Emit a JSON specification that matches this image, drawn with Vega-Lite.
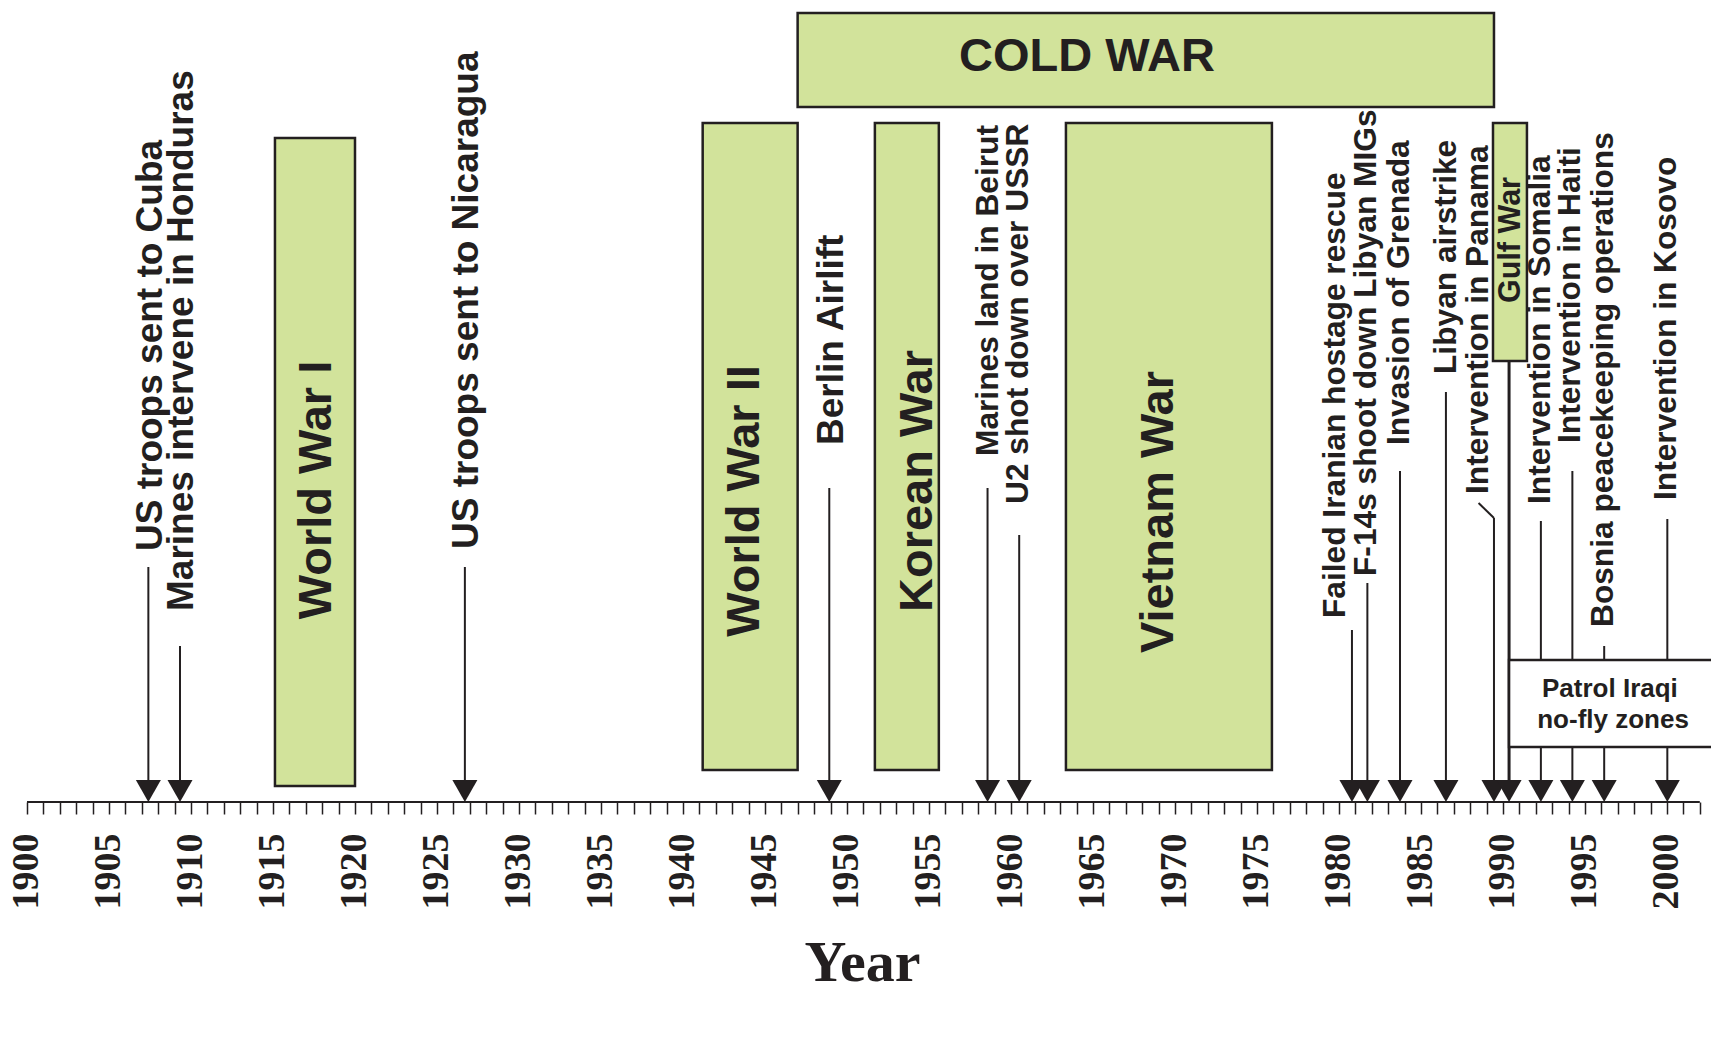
{
  "$schema": "https://vega.github.io/schema/vega-lite/v6.json",
  "width": 1711,
  "height": 802,
  "autosize": {"type": "none"},
  "padding": {"left": 0, "top": 0, "right": 0, "bottom": 235},
  "background": "white",
  "config": {"view": {"stroke": null}},
  "datasets": {
    "periods": [
      {"name": "COLD WAR", "start": 1946.99, "end": 1989.45, "top": 789, "bottom": 695},
      {"name": "World War I", "start": 1915.12, "end": 1920.0, "top": 664, "bottom": 16},
      {"name": "World War II", "start": 1941.2, "end": 1946.99, "top": 679, "bottom": 32},
      {"name": "Korean War", "start": 1951.7, "end": 1955.6, "top": 679, "bottom": 32},
      {"name": "Vietnam War", "start": 1963.35, "end": 1975.91, "top": 679, "bottom": 32},
      {"name": "Gulf War", "start": 1989.39, "end": 1991.46, "top": 679, "bottom": 441}
    ],
    "periodLabels": [
      {"name": "World War I", "year": 1917.71, "level": 312},
      {"name": "World War II", "year": 1943.77, "level": 301},
      {"name": "Korean War", "year": 1954.32, "level": 321},
      {"name": "Vietnam War", "year": 1969.01, "level": 290},
      {"name": "Gulf War", "year": 1990.48, "level": 562},
      {"name": "COLD WAR", "year": 1964.63, "level": 731}
    ],
    "events": [
      {"event": "US troops sent to Cuba", "year": 1907.4, "top": 235, "labelYear": 1907.54, "labelBase": 251},
      {"event": "Marines intervene in Honduras", "year": 1909.33, "top": 156, "labelYear": 1909.46, "labelBase": 191},
      {"event": "US troops sent to Nicaragua", "year": 1926.7, "top": 235, "labelYear": 1926.83, "labelBase": 253},
      {"event": "Berlin Airlift", "year": 1948.92, "top": 314, "labelYear": 1949.06, "labelBase": 357},
      {"event": "Marines land in Beirut", "year": 1958.57, "top": 314, "labelYear": 1958.57, "labelBase": 346},
      {"event": "U2 shot down over USSR", "year": 1960.5, "top": 267, "labelYear": 1960.43, "labelBase": 298},
      {"event": "Failed Iranian hostage rescue", "year": 1980.79, "top": 172, "labelYear": 1979.73, "labelBase": 184},
      {"event": "F-14s shoot down Libyan MIGs", "year": 1981.73, "top": 219, "labelYear": 1981.66, "labelBase": 226},
      {"event": "Invasion of Grenada", "year": 1983.72, "top": 331, "labelYear": 1983.66, "labelBase": 357},
      {"event": "Libyan airstrike", "year": 1986.52, "top": 410, "labelYear": 1986.52, "labelBase": 428},
      {"event": "Intervention in Panama", "year": 1989.45, "top": 284, "labelYear": 1988.45, "labelBase": 308},
      {"event": "Gulf War", "year": 1990.37, "top": 441, "labelYear": null, "labelBase": null},
      {"event": "Intervention in Somalia", "year": 1992.31, "top": 281, "labelYear": 1992.26, "labelBase": 298},
      {"event": "Intervention in Haiti", "year": 1994.23, "top": 331, "labelYear": 1994.11, "labelBase": 359},
      {"event": "Bosnia peacekeeping operations", "year": 1996.17, "top": 156, "labelYear": 1996.1, "labelBase": 175},
      {"event": "Intervention in Kosovo", "year": 2000.02, "top": 283, "labelYear": 1999.96, "labelBase": 302}
    ],
    "panamaKink": [
      {"order": 1, "year": 1988.51, "level": 299},
      {"order": 2, "year": 1989.45, "level": 284}
    ],
    "patrol": [
      {"name": "Patrol Iraqi no-fly zones", "start": 1990.37, "end": 2004.5, "top": 142, "bottom": 55}
    ],
    "patrolText": [
      {"line": "Patrol Iraqi", "year": 1996.52, "level": 105},
      {"line": "no-fly zones", "year": 1996.71, "level": 74}
    ],
    "axisLine": [
      {"from": 1900, "to": 2002}
    ]
  },
  "layer": [
    {
      "data": {"name": "axisLine"},
      "mark": {"type": "rule", "stroke": "#231f20", "strokeWidth": 2},
      "encoding": {
        "x": {
          "field": "from",
          "type": "quantitative",
          "title": "Year",
          "scale": {"domain": [1898.354, 2002.683], "nice": false, "zero": false},
          "axis": {
            "values": [1900,1901,1902,1903,1904,1905,1906,1907,1908,1909,1910,1911,1912,1913,1914,1915,1916,1917,1918,1919,1920,1921,1922,1923,1924,1925,1926,1927,1928,1929,1930,1931,1932,1933,1934,1935,1936,1937,1938,1939,1940,1941,1942,1943,1944,1945,1946,1947,1948,1949,1950,1951,1952,1953,1954,1955,1956,1957,1958,1959,1960,1961,1962,1963,1964,1965,1966,1967,1968,1969,1970,1971,1972,1973,1974,1975,1976,1977,1978,1979,1980,1981,1982,1983,1984,1985,1986,1987,1988,1989,1990,1991,1992,1993,1994,1995,1996,1997,1998,1999,2000,2001,2002],
            "tickCount": 500,
            "format": "d",
            "labelExpr": "datum.value % 5 === 0 && datum.value <= 2000 ? datum.label : ''",
            "domain": false,
            "grid": false,
            "ticks": true,
            "tickSize": 12,
            "tickWidth": 1.5,
            "tickColor": "#231f20",
            "labelAngle": 270,
            "labelAlign": "right",
            "labelBaseline": "middle",
            "labelFont": "Liberation Serif",
            "labelFontSize": 38,
            "labelFontWeight": "bold",
            "labelColor": "#231f20",
            "labelPadding": 19,
            "labelOverlap": false,
            "labelFlush": false,
            "labelBound": false,
            "title": "Year",
            "titleFont": "Liberation Serif",
            "titleFontSize": 58,
            "titleFontWeight": "bold",
            "titleColor": "#231f20",
            "titleX": 862,
            "titleY": 178,
            "titleBaseline": "alphabetic",
            "titleAlign": "center"
          }
        },
        "x2": {"field": "to"},
        "y": {"datum": 0, "type": "quantitative", "scale": {"domain": [0, 802], "nice": false, "zero": false}, "axis": null}
      }
    },
    {
      "data": {"name": "periods"},
      "mark": {"type": "rect", "fill": "#d2e39b", "stroke": "#231f20", "strokeWidth": 2.5},
      "encoding": {
        "x": {"field": "start", "type": "quantitative", "title": "Year", "scale": {"domain": [1898.354, 2002.683], "nice": false, "zero": false}},
        "x2": {"field": "end"},
        "y": {"field": "top", "type": "quantitative", "scale": {"domain": [0, 802], "nice": false, "zero": false}, "axis": null},
        "y2": {"field": "bottom"}
      }
    },
    {
      "data": {"name": "events"},
      "transform": [{"filter": "datum.event !== 'Gulf War'"}],
      "mark": {"type": "rule", "stroke": "#231f20", "strokeWidth": 2},
      "encoding": {
        "x": {"field": "year", "type": "quantitative", "title": "Year", "scale": {"domain": [1898.354, 2002.683], "nice": false, "zero": false}},
        "y": {"field": "top", "type": "quantitative", "scale": {"domain": [0, 802], "nice": false, "zero": false}, "axis": null},
        "y2": {"datum": 12}
      }
    },
    {
      "data": {"name": "events"},
      "transform": [{"filter": "datum.event === 'Gulf War'"}],
      "mark": {"type": "rule", "stroke": "#231f20", "strokeWidth": 3},
      "encoding": {
        "x": {"field": "year", "type": "quantitative", "title": "Year", "scale": {"domain": [1898.354, 2002.683], "nice": false, "zero": false}},
        "y": {"field": "top", "type": "quantitative", "scale": {"domain": [0, 802], "nice": false, "zero": false}, "axis": null},
        "y2": {"datum": 12}
      }
    },
    {
      "data": {"name": "panamaKink"},
      "mark": {"type": "line", "stroke": "#231f20", "strokeWidth": 2},
      "encoding": {
        "x": {"field": "year", "type": "quantitative", "title": "Year", "scale": {"domain": [1898.354, 2002.683], "nice": false, "zero": false}},
        "y": {"field": "level", "type": "quantitative", "scale": {"domain": [0, 802], "nice": false, "zero": false}, "axis": null},
        "order": {"field": "order"}
      }
    },
    {
      "data": {"name": "patrol"},
      "mark": {"type": "rect", "fill": "white", "stroke": "#231f20", "strokeWidth": 2.5},
      "encoding": {
        "x": {"field": "start", "type": "quantitative", "title": "Year", "scale": {"domain": [1898.354, 2002.683], "nice": false, "zero": false}},
        "x2": {"field": "end"},
        "y": {"field": "top", "type": "quantitative", "scale": {"domain": [0, 802], "nice": false, "zero": false}, "axis": null},
        "y2": {"field": "bottom"}
      }
    },
    {
      "data": {"name": "events"},
      "mark": {"type": "point", "shape": "M0,1L-1,-0.76L1,-0.76Z", "size": 625, "filled": true, "fill": "#231f20", "opacity": 1, "strokeWidth": 0},
      "encoding": {
        "x": {"field": "year", "type": "quantitative", "title": "Year", "scale": {"domain": [1898.354, 2002.683], "nice": false, "zero": false}},
        "y": {"datum": 12.5, "type": "quantitative", "scale": {"domain": [0, 802], "nice": false, "zero": false}, "axis": null}
      }
    },
    {
      "data": {"name": "periodLabels"},
      "transform": [{"filter": "datum.name === 'World War II' || datum.name === 'Korean War' || datum.name === 'Vietnam War' || datum.name === 'World War I'"}],
      "mark": {"type": "text", "angle": 270, "align": "center", "baseline": "middle", "font": "Liberation Sans", "fontWeight": "bold", "fontSize": 47, "fill": "#231f20"},
      "encoding": {
        "x": {"field": "year", "type": "quantitative", "title": "Year", "scale": {"domain": [1898.354, 2002.683], "nice": false, "zero": false}},
        "y": {"field": "level", "type": "quantitative", "scale": {"domain": [0, 802], "nice": false, "zero": false}, "axis": null},
        "text": {"field": "name"}
      }
    },
    {
      "data": {"name": "periodLabels"},
      "transform": [{"filter": "datum.name === 'Gulf War'"}],
      "mark": {"type": "text", "angle": 270, "align": "center", "baseline": "middle", "font": "Liberation Sans", "fontWeight": "bold", "fontSize": 30.5, "fill": "#231f20"},
      "encoding": {
        "x": {"field": "year", "type": "quantitative", "title": "Year", "scale": {"domain": [1898.354, 2002.683], "nice": false, "zero": false}},
        "y": {"field": "level", "type": "quantitative", "scale": {"domain": [0, 802], "nice": false, "zero": false}, "axis": null},
        "text": {"field": "name"}
      }
    },
    {
      "data": {"name": "periodLabels"},
      "transform": [{"filter": "datum.name === 'COLD WAR'"}],
      "mark": {"type": "text", "align": "center", "baseline": "alphabetic", "font": "Liberation Sans", "fontWeight": "bold", "fontSize": 47, "fill": "#231f20"},
      "encoding": {
        "x": {"field": "year", "type": "quantitative", "title": "Year", "scale": {"domain": [1898.354, 2002.683], "nice": false, "zero": false}},
        "y": {"field": "level", "type": "quantitative", "scale": {"domain": [0, 802], "nice": false, "zero": false}, "axis": null},
        "text": {"field": "name"}
      }
    },
    {
      "data": {"name": "events"},
      "transform": [{"filter": "datum.year < 1955"}],
      "mark": {"type": "text", "angle": 270, "align": "left", "baseline": "middle", "font": "Liberation Sans", "fontWeight": "bold", "fontSize": 37, "fill": "#231f20"},
      "encoding": {
        "x": {"field": "labelYear", "type": "quantitative", "title": "Year", "scale": {"domain": [1898.354, 2002.683], "nice": false, "zero": false}},
        "y": {"field": "labelBase", "type": "quantitative", "scale": {"domain": [0, 802], "nice": false, "zero": false}, "axis": null},
        "text": {"field": "event"}
      }
    },
    {
      "data": {"name": "events"},
      "transform": [{"filter": "datum.year >= 1955 && datum.event !== 'Gulf War'"}],
      "mark": {"type": "text", "angle": 270, "align": "left", "baseline": "middle", "font": "Liberation Sans", "fontWeight": "bold", "fontSize": 31.7, "fill": "#231f20"},
      "encoding": {
        "x": {"field": "labelYear", "type": "quantitative", "title": "Year", "scale": {"domain": [1898.354, 2002.683], "nice": false, "zero": false}},
        "y": {"field": "labelBase", "type": "quantitative", "scale": {"domain": [0, 802], "nice": false, "zero": false}, "axis": null},
        "text": {"field": "event"}
      }
    },
    {
      "data": {"name": "patrolText"},
      "mark": {"type": "text", "align": "center", "baseline": "alphabetic", "font": "Liberation Sans", "fontWeight": "bold", "fontSize": 26, "fill": "#231f20"},
      "encoding": {
        "x": {"field": "year", "type": "quantitative", "title": "Year", "scale": {"domain": [1898.354, 2002.683], "nice": false, "zero": false}},
        "y": {"field": "level", "type": "quantitative", "scale": {"domain": [0, 802], "nice": false, "zero": false}, "axis": null},
        "text": {"field": "line"}
      }
    }
  ]
}
